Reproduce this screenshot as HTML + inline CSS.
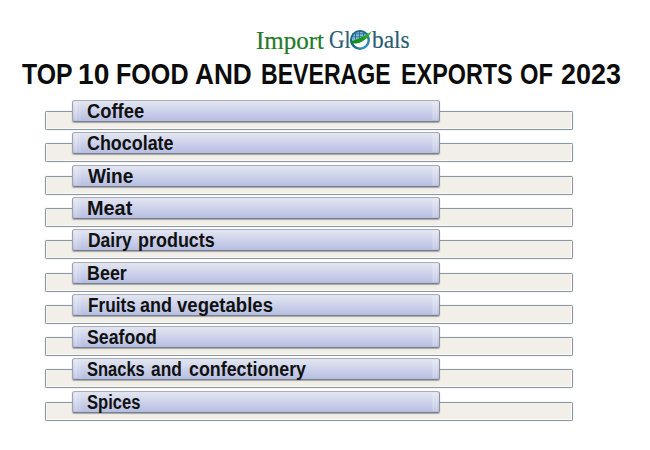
<!DOCTYPE html>
<html><head><meta charset="utf-8">
<style>
html,body{margin:0;padding:0;}
body{width:650px;height:450px;background:#fff;position:relative;overflow:hidden;font-family:"Liberation Sans",sans-serif;}
.logo{position:absolute;left:0;top:0;width:650px;height:60px;font-family:"Liberation Serif",serif;font-size:25px;line-height:30px;white-space:nowrap;}
.logo span{position:absolute;top:25.5px;-webkit-text-stroke:0.2px currentColor;}
.logo .g{color:#247a29;}
.logo .b{color:#2a5c74;}
.title span{position:absolute;top:56px;font-weight:bold;font-size:29.5px;line-height:36px;color:#0c0c0c;white-space:nowrap;transform-origin:0 0;}
.row{position:absolute;left:0;width:650px;height:32px;}
.bar{position:absolute;left:45px;top:11px;width:526px;height:17px;background:#f1efe7;border:1px solid #8a97a5;border-radius:1.5px;box-shadow:inset 1px 0 0 #f8f7f3,inset -1px 0 0 #fbfbf8,inset 0 -1px 0 #f9f9f6,0 0 1px rgba(110,120,135,.55);}
.tab{position:absolute;left:72px;top:0;width:366px;height:20px;border:1px solid #a9adb8;border-bottom-color:#7b7f8a;border-left-color:#9fa3ae;border-right-color:#8f939e;border-radius:2.5px;background:linear-gradient(#e3e6f1,#d3d8ec 35%,#c4cae7 70%,#b6bee0);box-shadow:0 1px 1px rgba(100,104,115,.55);}
.tab::after{content:"";position:absolute;right:1px;top:1px;bottom:1px;width:6px;background:linear-gradient(90deg,rgba(255,255,255,0) 0,rgba(255,255,255,.35) 20%,rgba(255,255,255,.1) 50%,rgba(255,255,255,.35) 80%,rgba(255,255,255,0));}
.tab::before{content:"";position:absolute;left:1px;top:1px;bottom:1px;width:7px;background:linear-gradient(90deg,rgba(255,255,255,.15),rgba(255,255,255,.3) 30%,rgba(255,255,255,.05) 60%,rgba(255,255,255,.2) 85%,rgba(255,255,255,0));}
.row span{position:absolute;top:1px;font-weight:bold;font-size:20px;line-height:21px;color:#111;white-space:nowrap;transform-origin:0 0;transform:scaleX(0.89);}
</style></head><body>
<div class="logo"><span class="g m" style="left:256px;">Import</span><span class="b m" style="left:329px;font-size:25.5px;top:25px;transform:scaleX(0.84);transform-origin:0 0">Gl</span><span class="b m" style="left:372px;font-size:26px;top:25px;transform:scaleX(0.9);transform-origin:0 0">bals</span>
<svg class="globe" width="24" height="24" viewBox="0 0 24 24" style="position:absolute;left:348px;top:28px">
<defs><clipPath id="up"><path d="M0 0H24V3H23.6C17.5 8.3 9 11 1.6 13.9H0Z"/></clipPath>
<linearGradient id="gr" x1="0" y1="1" x2="1" y2="0"><stop offset="0" stop-color="#0d8418"/><stop offset=".6" stop-color="#1e9f28"/><stop offset="1" stop-color="#62cc40"/></linearGradient>
<linearGradient id="rg" x1="0" y1="0" x2="1" y2="1"><stop offset="0" stop-color="#1d5f7e"/><stop offset=".6" stop-color="#1f6f92"/><stop offset="1" stop-color="#3aa6d4"/></linearGradient></defs>
<circle cx="12" cy="12" r="8.8" fill="#fff" stroke="url(#rg)" stroke-width="2.5"/>
<g clip-path="url(#up)"><circle cx="12" cy="12" r="8" fill="#7dbde0"/>
<path d="M4 5.8H20M3.5 8.8H20.5M7.5 3.5V12M11.5 3V12M15.5 3.5V12" stroke="#2a6d92" stroke-width=".9" fill="none"/></g>
<path d="M1.6 13.9C8 18.6 19.5 13 23.8 3C17.5 8.3 9 11 1.6 13.9Z" fill="url(#gr)"/>
</svg></div>
<div class="title"><span style="left:21.90px;transform:scaleX(0.8407)">TOP</span><span style="left:77.99px;transform:scaleX(0.9533)">10</span><span style="left:116.10px;transform:scaleX(0.8512)">FOOD</span><span style="left:195.01px;transform:scaleX(0.8887)">AND</span><span style="left:261.03px;transform:scaleX(0.7828)">BEVERAGE</span><span style="left:400.62px;transform:scaleX(0.7920)">EXPORTS</span><span style="left:520.39px;transform:scaleX(0.8051)">OF</span><span style="left:561.39px;transform:scaleX(0.9125)">2023</span></div>
<div class="row" style="top:100px"><div class="bar"></div><div class="tab"></div><span style="left:87px;transform:scaleX(0.918)">Coffee</span></div>
<div class="row" style="top:132px"><div class="bar"></div><div class="tab"></div><span style="left:87px;transform:scaleX(0.895)">Chocolate</span></div>
<div class="row" style="top:165px"><div class="bar"></div><div class="tab"></div><span style="left:87.6px;transform:scaleX(0.953)">Wine</span></div>
<div class="row" style="top:197px"><div class="bar"></div><div class="tab"></div><span style="left:87px;transform:scaleX(0.993)">Meat</span></div>
<div class="row" style="top:229px"><div class="bar"></div><div class="tab"></div><span style="left:87.73px;transform:scaleX(0.8735)">Dairy</span><span style="left:138.00px;transform:scaleX(0.8976)">products</span></div>
<div class="row" style="top:262px"><div class="bar"></div><div class="tab"></div><span style="left:87px;transform:scaleX(0.895)">Beer</span></div>
<div class="row" style="top:294px"><div class="bar"></div><div class="tab"></div><span style="left:87.54px;transform:scaleX(0.8593)">Fruits</span><span style="left:140.30px;transform:scaleX(0.8970)">and</span><span style="left:177.20px;transform:scaleX(0.9282)">vegetables</span></div>
<div class="row" style="top:326px"><div class="bar"></div><div class="tab"></div><span style="left:87px;transform:scaleX(0.885)">Seafood</span></div>
<div class="row" style="top:358px"><div class="bar"></div><div class="tab"></div><span style="left:87.08px;transform:scaleX(0.8250)">Snacks</span><span style="left:150.53px;transform:scaleX(0.8667)">and</span><span style="left:189.11px;transform:scaleX(0.8923)">confectionery</span></div>
<div class="row" style="top:391px"><div class="bar"></div><div class="tab"></div><span style="left:87px;transform:scaleX(0.828)">Spices</span></div>
</body></html>
